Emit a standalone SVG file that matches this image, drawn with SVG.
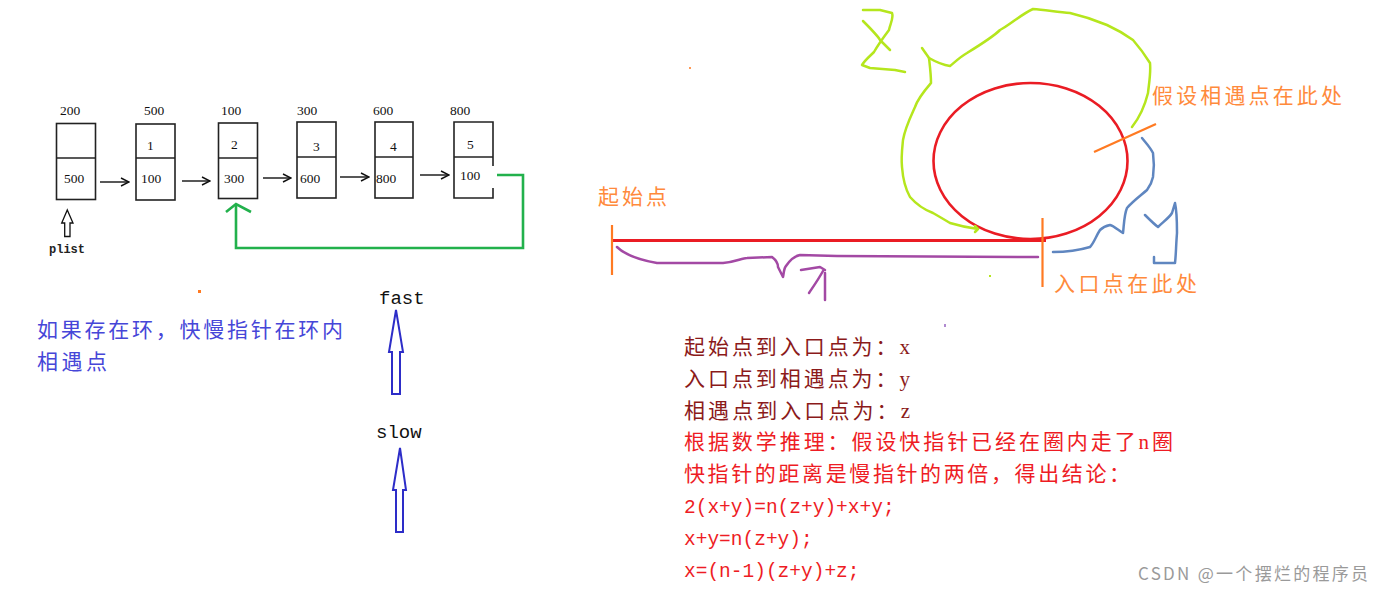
<svg xmlns="http://www.w3.org/2000/svg" width="1385" height="592" viewBox="0 0 1385 592">
<style>
.box{fill:none;stroke:#222;stroke-width:1.6}
.num{font-family:"Liberation Serif",serif;font-size:13.5px;fill:#111}
.arr{stroke:#111;stroke-width:1.4;fill:none}
.cn{font-family:"Noto Sans CJK SC",sans-serif;font-size:21px}
.orange{fill:#ff8a3c}
.hand{fill:none;stroke-width:2.5;stroke-linecap:round;stroke-linejoin:round}
.lime{stroke:#b5e61d}
.blue{stroke:#5f86c0}
.purple{stroke:#a349a4}
.serif{font-family:"Liberation Serif","Noto Sans CJK SC",serif}
.mono{font-family:"Liberation Mono",monospace}
</style>
<defs>
<marker id="open" viewBox="0 0 10 10" refX="9" refY="5" markerWidth="10" markerHeight="10" markerUnits="userSpaceOnUse" orient="auto">
<path d="M1,1 L9,5 L1,9" fill="none" stroke="#111" stroke-width="1.4"/>
</marker>
</defs>
<rect width="1385" height="592" fill="#fff"/>

<g id="node-200">
<text class="num" x="60" y="115">200</text>
<rect class="box" x="56.5" y="123.5" width="39" height="76"/>
<line class="box" x1="56.5" y1="158" x2="95.5" y2="158"/>
<text class="num" x="64" y="183">500</text>
</g>
<g id="node-500">
<text class="num" x="144" y="115">500</text>
<rect class="box" x="136" y="124" width="39" height="76"/>
<line class="box" x1="136" y1="158" x2="175" y2="158"/>
<text class="num" x="147" y="150">1</text>
<text class="num" x="141" y="183">100</text>
</g>
<g id="node-100">
<text class="num" x="221" y="115">100</text>
<rect class="box" x="218.5" y="123" width="39" height="75.5"/>
<line class="box" x1="218.5" y1="158" x2="257.5" y2="158"/>
<text class="num" x="231" y="149">2</text>
<text class="num" x="224" y="183">300</text>
</g>
<g id="node-300">
<text class="num" x="297" y="115">300</text>
<rect class="box" x="297" y="122" width="39" height="76"/>
<line class="box" x1="297" y1="157" x2="336" y2="157"/>
<text class="num" x="313" y="151">3</text>
<text class="num" x="300" y="183">600</text>
</g>
<g id="node-600">
<text class="num" x="373" y="115">600</text>
<rect class="box" x="375" y="122" width="38" height="76"/>
<line class="box" x1="375" y1="157" x2="413" y2="157"/>
<text class="num" x="390" y="151">4</text>
<text class="num" x="376" y="183">800</text>
</g>
<g id="node-800">
<text class="num" x="450" y="115">800</text>
<path class="box" d="M493,166 V122 H454 V198 H493 V188"/>
<line class="box" x1="454" y1="157" x2="493" y2="157"/>
<text class="num" x="467" y="149">5</text>
<text class="num" x="460" y="180">100</text>
</g>
<g id="plist">
<path d="M67.3,210 L73,223 L70,223 L70,236.5 L64.7,236.5 L64.7,223 L61.7,223 Z" fill="none" stroke="#111" stroke-width="1.3"/>
<text class="mono" x="49" y="253" font-size="12" font-weight="bold" fill="#222">plist</text>
</g>

<g id="connectors">
<line class="arr" x1="100" y1="182" x2="129" y2="182" marker-end="url(#open)"/>
<line class="arr" x1="182" y1="181" x2="210" y2="181" marker-end="url(#open)"/>
<line class="arr" x1="263" y1="178" x2="291" y2="178" marker-end="url(#open)"/>
<line class="arr" x1="340" y1="177" x2="369" y2="177" marker-end="url(#open)"/>
<line class="arr" x1="420" y1="175" x2="449" y2="175" marker-end="url(#open)"/>
<path d="M497,175 H523 V248 H236 V205" fill="none" stroke="#22b14c" stroke-width="2.6"/>
<path d="M226,212 L236,204 L251,212" fill="none" stroke="#22b14c" stroke-width="2.6"/>
</g>

<g id="note">
<text class="cn" x="37" y="337" fill="#4646d8" textLength="306">如果存在环，快慢指针在环内</text>
<text class="cn" x="37" y="369" fill="#4646d8" textLength="70">相遇点</text>
</g>

<g id="fast">
<text class="mono" x="379" y="304" font-size="19" fill="#111">fast</text>
<path d="M396,310 L403,352 L400,352 L400,394 L392,394 L392,352 L389,352 Z" fill="none" stroke="#2d2dc8" stroke-width="2"/>
</g>
<g id="slow">
<text class="mono" x="376" y="438" font-size="19" fill="#111">slow</text>
<path d="M400,448 L406,490 L403,490 L403,532 L396,532 L396,490 L393,490 Z" fill="none" stroke="#2d2dc8" stroke-width="2"/>
</g>

<g id="loop">
<ellipse cx="1030.5" cy="161" rx="97" ry="78" fill="none" stroke="#ea1c24" stroke-width="2.6"/>
<line x1="612" y1="240.5" x2="1046" y2="240.5" stroke="#ea1c24" stroke-width="3"/>
<line x1="612" y1="225" x2="612" y2="275" stroke="#ff7a22" stroke-width="2.2"/>
<line x1="1042.5" y1="218" x2="1042.5" y2="287" stroke="#ff7a22" stroke-width="2.2"/>
<line x1="1094" y1="152" x2="1156" y2="124" stroke="#ff7a22" stroke-width="2.2"/>
<text class="cn orange" x="598" y="204" textLength="69">起始点</text>
<text class="cn orange" x="1152" y="103" textLength="190">假设相遇点在此处</text>
<text class="cn orange" x="1054" y="291" textLength="143">入口点在此处</text>
<path class="hand purple" d="M617,247 C625,255 640,260 657,263 L723,263 C735,262 742,258 747,258 L772,257 C776,260 778,264 778,267 L783,277 C784,272 784,268 786,266 C790,260 795,256 800,255 L837,256 L1038,257"/>
<path class="hand purple" d="M801,270 L820,267 L825,270 M823,271 C818,280 813,287 809,293 M825,273 L825,300"/>
<path class="hand lime" d="M863,10 L880,10 L892,13 C894,18 890,24 889,30 C883,38 878,45 874,52 C870,56 865,60 862,65 L870,68 L895,70 L905,72 M863,21 C870,28 878,36 880,40 C884,44 887,47 890,50"/>
<path class="hand lime" d="M922,48 L929,58 C930,67 931,75 931,83 C925,90 918,98 915,107 C910,118 905,128 903,140 C902,150 901,158 902,167 C903,180 906,190 910,197 C917,205 925,210 933,213 C940,217 945,220 950,223 C960,226 970,228 978,229 M975,226 L978,229 L975,232"/>
<path class="hand lime" d="M929,58 C936,62 943,65 950,66 C955,62 960,57 967,53 C980,45 995,35 1000,30 C1010,25 1020,15 1033,9 C1045,10 1058,12 1070,13 C1083,16 1095,20 1107,25 C1118,30 1126,35 1133,40 C1140,48 1145,55 1150,63 C1151,73 1149,83 1148,93 C1145,105 1140,117 1132,127"/>
<path class="hand blue" d="M1142,138 C1146,143 1150,147 1153,153 C1154,160 1154,170 1153,177 C1152,182 1150,186 1147,190 C1140,196 1132,202 1127,208 C1124,215 1124,225 1123,233 C1118,230 1114,226 1110,225 C1105,226 1102,228 1100,230 C1096,236 1094,243 1090,247 C1080,250 1066,252 1053,252"/>
<path class="hand blue" d="M1145,215 C1150,220 1154,224 1158,227 C1163,222 1169,218 1172,213 L1175,203 C1177,212 1177,222 1177,233 C1176,245 1176,255 1175,263 L1154,263 L1154,257"/>
<rect x="198" y="290" width="3" height="3" fill="#ff7a22"/>
<rect x="689" y="67" width="2" height="2" fill="#ff9a55"/>
<rect x="989" y="275" width="2" height="2" fill="#b5e61d"/>
<rect x="944" y="324" width="2" height="3" fill="#b08ad0"/>
</g>

<g id="derivation">
<text class="serif" x="684" y="354" font-size="21" fill="#8b1a1a" textLength="226">起始点到入口点为：x</text>
<text class="serif" x="684" y="386" font-size="21" fill="#8b1a1a" textLength="226">入口点到相遇点为：y</text>
<text class="serif" x="684" y="418" font-size="21" fill="#8b1a1a" textLength="226">相遇点到入口点为：z</text>
<text class="serif" x="684" y="449" font-size="21" fill="#ee1c24" textLength="489">根据数学推理：假设快指针已经在圈内走了n圈</text>
<text class="serif" x="684" y="481" font-size="21" fill="#ee1c24" textLength="446">快指针的距离是慢指针的两倍，得出结论：</text>
<text class="mono" x="684" y="513" font-size="19.5" fill="#ee1c24">2(x+y)=n(z+y)+x+y;</text>
<text class="mono" x="684" y="545" font-size="19.5" fill="#ee1c24">x+y=n(z+y);</text>
<text class="mono" x="684" y="577" font-size="19.5" fill="#ee1c24">x=(n-1)(z+y)+z;</text>
</g>

<text x="1138" y="580" style="font-family:'Noto Sans CJK SC',sans-serif;font-size:17px;fill:#9a9a9a" textLength="230">CSDN @一个摆烂的程序员</text>
</svg>
